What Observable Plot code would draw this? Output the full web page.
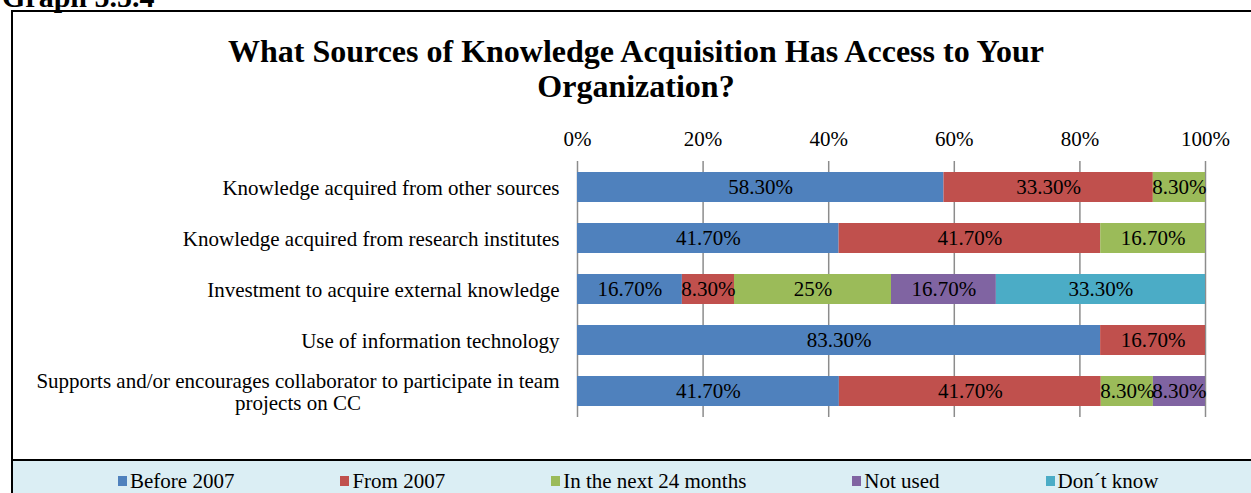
<!DOCTYPE html>
<html><head><meta charset="utf-8">
<script src="https://cdn.jsdelivr.net/npm/d3@7"></script>
<script src="https://cdn.jsdelivr.net/npm/@observablehq/plot@0.6"></script>
<style>
html,body{margin:0;padding:0;background:#fff;overflow:hidden;width:1251px;height:493px;}
body{position:relative;font-family:"Liberation Serif","Times New Roman",serif;color:#000;}
#graphno{position:absolute;left:2px;top:-18px;font-weight:bold;font-size:30px;line-height:30px;white-space:nowrap;}
#box{position:absolute;left:11px;top:10px;width:1262px;height:451px;border:2px solid #000;box-sizing:border-box;}
#title{position:absolute;left:11px;top:34px;width:1250px;text-align:center;font-weight:bold;font-size:32px;line-height:35px;}
#plot{position:absolute;left:0;top:110px;}
#legend{position:absolute;left:11px;top:461px;width:1262px;height:40px;background:#dbeef4;border-left:2px solid #000;box-sizing:border-box;display:flex;align-items:center;padding-left:105px;gap:106px;font-size:21px;}
.item{display:flex;align-items:center;white-space:nowrap;}
.sw{width:9px;height:10px;margin-right:3px;display:inline-block;}
</style>
</head><body>
<div id="graphno">Graph 5.5.4</div>
<div id="box"></div>
<div id="title">What Sources of Knowledge Acquisition Has Access to Your<br>Organization?</div>
<div id="plot"></div>
<div id="legend"></div>
<script>
const categories = [
  "Knowledge acquired from other sources",
  "Knowledge acquired from research institutes",
  "Investment to acquire external knowledge",
  "Use of information technology",
  "Supports and/or encourages collaborator to participate in team\nprojects on CC"
];
const series = ["Before 2007", "From 2007", "In the next 24 months", "Not used", "Don\u00b4t know"];
const colors = ["#4f81bd", "#c0504d", "#9bbb59", "#8064a2", "#4bacc6"];
const before2007 = [58.3, 41.7, 16.7, 83.3, 41.7];
const from2007 = [33.3, 41.7, 8.3, 16.7, 41.7];
const next24 = [8.3, 16.7, 25, 0, 8.3];
const notUsed = [0, 0, 16.7, 0, 8.3];
const dontKnow = [0, 0, 33.3, 0, 0];
const xTicks = [0, 0.2, 0.4, 0.6, 0.8, 1];

const seriesValues = [before2007, from2007, next24, notUsed, dontKnow];
const data = series.flatMap((s, i) => categories.map((c, j) => ({category: c, series: s, value: seriesValues[i][j]})))
  .filter(d => d.value > 0);
const fmt = v => Number.isInteger(v) ? v + "%" : v.toFixed(2) + "%";

const chart = Plot.plot({
  width: 1251, height: 320,
  marginLeft: 577, marginRight: 46, marginTop: 51, marginBottom: 13,
  style: {fontFamily: '"Liberation Serif","Times New Roman",serif', fontSize: "21px", color: "#000", background: "transparent", overflow: "visible"},
  x: {domain: [0, 1], axis: null, label: null},
  y: {domain: categories, paddingInner: 0.414, paddingOuter: 0.207, axis: null, label: null},
  color: {domain: series, range: colors},
  marks: [
    Plot.gridX(xTicks, {stroke: "#8c8c8c", strokeOpacity: 1, strokeWidth: 1.5}),
    Plot.barX(data, Plot.stackX({x: "value", y: "category", fill: "series", offset: "normalize"})),
    Plot.text(data, Plot.stackX({x: "value", y: "category", z: "series", offset: "normalize", text: d => fmt(d.value), fill: "#000", fontSize: 21})),
    Plot.axisX(xTicks, {anchor: "top", label: null, tickFormat: d => Math.round(d * 100) + "%", tickSize: 0, tickPadding: 16, fontSize: 21}),
    Plot.axisY({anchor: "left", label: null, tickSize: 0, tickPadding: 18, fontSize: 21, lineHeight: 1.05})
  ]
});
document.getElementById("plot").append(chart);
chart.querySelectorAll('g[aria-label="y-axis tick label"] text').forEach(t => {
  if (t.querySelectorAll("tspan").length > 1) {
    const w = t.getBBox().width;
    t.setAttribute("text-anchor", "middle");
    const tr = t.getAttribute("transform") || "";
    t.setAttribute("transform", tr + ` translate(${-w / 2},0)`);
  }
});

const legend = document.getElementById("legend");
series.forEach((s, i) => {
  const it = document.createElement("div");
  it.className = "item";
  const sw = document.createElement("span");
  sw.className = "sw";
  sw.style.background = colors[i];
  const tx = document.createElement("span");
  tx.textContent = s;
  it.append(sw, tx);
  legend.append(it);
});
</script>
</body></html>
